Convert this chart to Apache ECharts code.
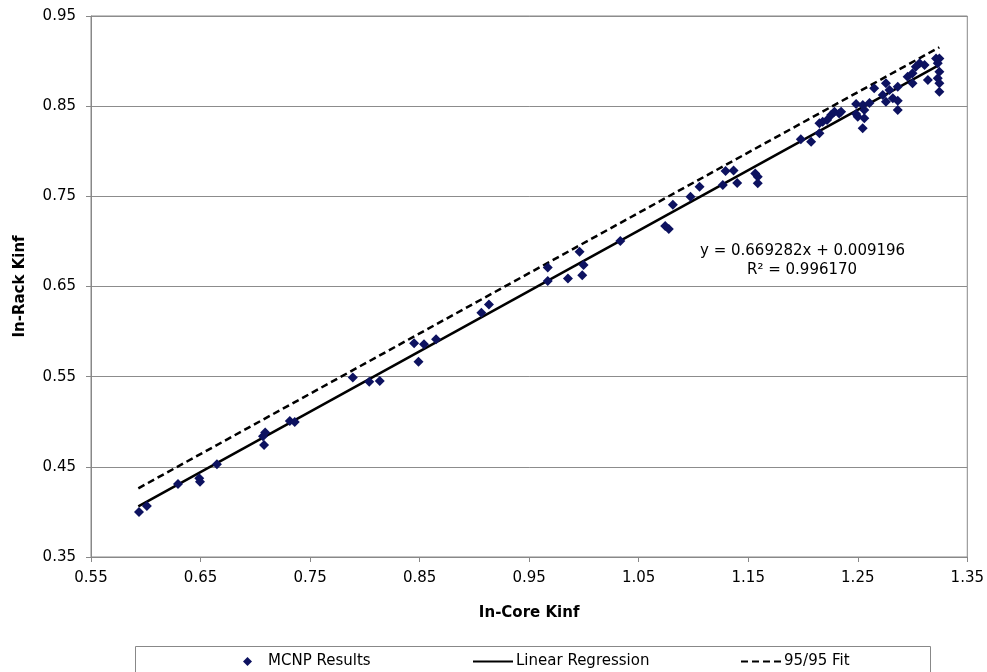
<!DOCTYPE html>
<html>
<head>
<meta charset="utf-8">
<script src="https://cdn.jsdelivr.net/npm/echarts@6/dist/echarts.min.js"></script>
<style>
html,body{margin:0;padding:0;background:#fff;}
#chart{width:987px;height:672px;}
</style>
</head>
<body>
<div id="chart"></div>
<script>
// MCNP results (In-Core Kinf, In-Rack Kinf)
var mcnpX = [0.5938,0.6010,0.6294,0.6488,0.6495,0.6650,0.7080,0.7070,0.7090,0.7315,0.7360,0.7890,0.8040,0.8136,0.8450,0.8490,0.8540,0.8650,0.9064,0.9133,0.9670,0.9670,0.9854,0.9960,0.9997,0.9985,1.0332,1.0742,1.0775,1.0812,1.0973,1.1056,1.1268,1.1293,1.1366,1.1399,1.1564,1.1587,1.1587,1.1980,1.2074,1.2150,1.2150,1.2180,1.2220,1.2257,1.2287,1.2330,1.2348,1.2485,1.2546,1.2485,1.2560,1.2560,1.2545,1.2500,1.2650,1.2728,1.2757,1.2790,1.2757,1.2820,1.2865,1.2865,1.2865,1.3000,1.3000,1.3064,1.3110,1.3140,1.3215,1.3245,1.3230,1.3245,1.3230,1.3245,1.3245,1.3030,1.2955,1.2607];
var mcnpY = [0.4000,0.4066,0.4310,0.4373,0.4335,0.4530,0.4742,0.4840,0.4880,0.5009,0.4997,0.5490,0.5444,0.5452,0.5870,0.5666,0.5860,0.5914,0.6210,0.6300,0.6710,0.6560,0.6590,0.6886,0.6739,0.6624,0.7005,0.7170,0.7138,0.7407,0.7496,0.7607,0.7626,0.7780,0.7787,0.7647,0.7753,0.7716,0.7645,0.8133,0.8106,0.8200,0.8310,0.8328,0.8347,0.8402,0.8439,0.8420,0.8439,0.8524,0.8513,0.8413,0.8457,0.8366,0.8254,0.8383,0.8698,0.8624,0.8754,0.8680,0.8550,0.8587,0.8561,0.8457,0.8716,0.8864,0.8754,0.8975,0.8957,0.8790,0.9030,0.9030,0.8975,0.8882,0.8809,0.8754,0.8660,0.8938,0.8827,0.8535];
// Line end points
var lineX = [0.5932, 1.3245];
var regY = [0.4062, 0.8957];
var fitY = [0.4262, 0.9153];
var seriesNames = ['MCNP Results', 'Linear Regression', '95/95 Fit'];
var eqLines = ['y = 0.669282x + 0.009196', 'R\u00B2 = 0.996170'];
var xTitle = 'In-Core Kinf';
var yTitle = 'In-Rack Kinf';

var FONT = 'DejaVu Sans';
function pairs(xs, ys){ return xs.map(function(x,i){ return [x, ys[i]]; }); }

var chart = echarts.init(document.getElementById('chart'), null, {renderer:'canvas'});
var legendBase = {
  orient:'horizontal', top: 649, itemWidth: 40, itemHeight: 12, itemGap: 0,
  textStyle:{fontFamily:FONT, fontSize:15, color:'#000', padding:[0,0,0,-2]},
  selectedMode:false
};
chart.setOption({
  animation:false,
  backgroundColor:'#fff',
  grid:{left:91, right:19, top:16, bottom:115, show:true, borderColor:'#888', borderWidth:1},
  legend:[
    Object.assign({}, legendBase, {left:238, itemWidth:9, itemHeight:9,
      textStyle:{fontFamily:FONT, fontSize:15, color:'#000', padding:[0,0,0,11]},
      data:[{name:seriesNames[0], icon:'diamond'}]}),
    Object.assign({}, legendBase, {left:467, itemStyle:{opacity:0}, data:[seriesNames[1]]}),
    Object.assign({}, legendBase, {left:735, itemStyle:{opacity:0}, data:[seriesNames[2]]})
  ],
  xAxis:{
    type:'value', min:0.55, max:1.35, interval:0.1,
    name:xTitle, nameLocation:'middle', nameGap:49,
    nameTextStyle:{fontFamily:FONT, fontSize:15, fontWeight:'bold', color:'#000'},
    axisLine:{show:true, lineStyle:{color:'#888', width:1}},
    axisTick:{show:true, inside:false, length:5, lineStyle:{color:'#888'}},
    axisLabel:{fontFamily:FONT, fontSize:15, color:'#000', margin:14, formatter:function(v){return v.toFixed(2);}},
    splitLine:{show:false}
  },
  yAxis:{
    type:'value', min:0.35, max:0.95, interval:0.1,
    name:yTitle, nameLocation:'middle', nameGap:63, nameRotate:90,
    nameTextStyle:{fontFamily:FONT, fontSize:15, fontWeight:'bold', color:'#000'},
    axisLine:{show:true, lineStyle:{color:'#888', width:1}},
    axisTick:{show:true, inside:false, length:5, lineStyle:{color:'#888'}},
    axisLabel:{fontFamily:FONT, fontSize:15, color:'#000', margin:15, formatter:function(v){return v.toFixed(2);}},
    splitLine:{show:true, lineStyle:{color:'#8c8c8c', width:1}}
  },
  series:[
    {name:seriesNames[0], type:'scatter', data:pairs(mcnpX, mcnpY), symbol:'diamond', symbolSize:10,
     itemStyle:{color:'#0d1260', opacity:1}, z:3},
    {name:seriesNames[1], type:'line', data:pairs(lineX, regY), showSymbol:false, symbol:'none',
     itemStyle:{color:'#000'}, lineStyle:{color:'#000', width:2.5, type:'solid'}, z:2},
    {name:seriesNames[2], type:'line', data:pairs(lineX, fitY), showSymbol:false, symbol:'none',
     itemStyle:{color:'#000'}, lineStyle:{color:'#000', width:2.5, type:[7,4]}, z:2}
  ],
  graphic:[
    {type:'rect', left:133, top:644, shape:{width:795, height:40}, style:{fill:'none', stroke:'#888', lineWidth:1}, z:-1},
    {type:'text', left:700, top:244, style:{text:eqLines[0], font:'15px "DejaVu Sans"', fill:'#000'}},
    {type:'text', left:747, top:263, style:{text:eqLines[1], font:'15px "DejaVu Sans"', fill:'#000'}}
  ]
});
</script>
</body>
</html>
